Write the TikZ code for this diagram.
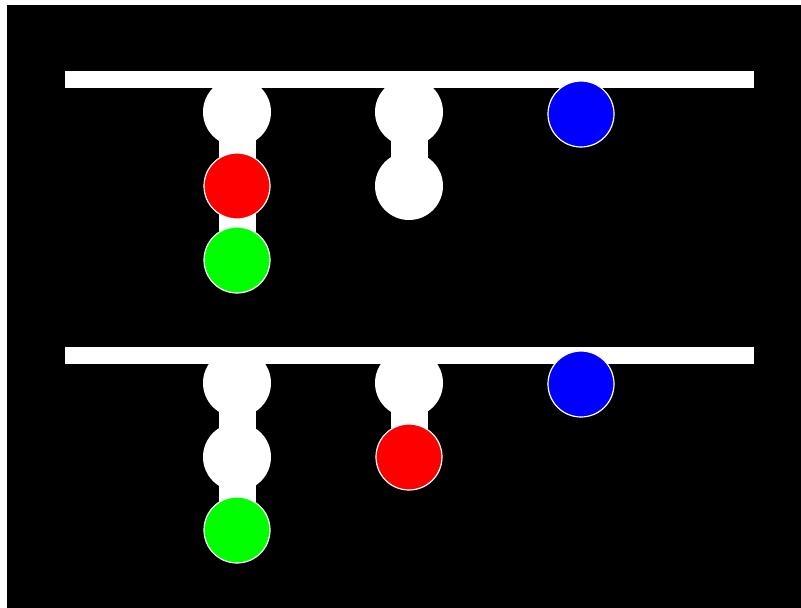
\documentclass[tikz,border=0pt]{standalone}
\pgfdeclarelayer{bg}
\pgfdeclarelayer{links}
\pgfsetlayers{bg,links,main}
\begin{document}
\begin{tikzpicture}[x=1pt,y=-1pt,
  ball/.style={circle,inner sep=0pt,minimum size=68pt,fill=white},
  cball/.style={circle,inner sep=0pt,minimum size=66pt,draw=white,line width=1.2pt,fill=#1},
  link/.style={white,line width=37pt},
  bar/.style={fill=white}]
\useasboundingbox (0,0) rectangle (801,608);
\begin{pgfonlayer}{bg}
\fill[white] (0,0) rectangle (801,608);
\fill[black] (7,5) rectangle (801,608);
\end{pgfonlayer}
% top panel
\fill[bar] (65,71) rectangle (754,88);
\node[ball] (t11) at (237,112) {};
\node[cball=red] (t12) at (237,186) {};
\node[cball=green] (t13) at (237,260) {};
\node[ball] (t21) at (409,112) {};
\node[ball] (t22) at (409,186) {};
\node[cball=blue] (t3) at (581,114) {};
% bottom panel
\fill[bar] (65,347) rectangle (754,364);
\node[ball] (b11) at (237,383) {};
\node[ball] (b12) at (237,457) {};
\node[cball=green] (b13) at (237,530) {};
\node[ball] (b21) at (409,383) {};
\node[cball=red] (b22) at (409,457) {};
\node[cball=blue] (b3) at (581,384) {};
\begin{pgfonlayer}{links}
\draw[link] (t11.center) -- (t13.center);
\draw[link] (t21.center) -- (t22.center);
\draw[link] (b11.center) -- (b13.center);
\draw[link] (b21.center) -- (b22.center);
\end{pgfonlayer}
\end{tikzpicture}
\end{document}
